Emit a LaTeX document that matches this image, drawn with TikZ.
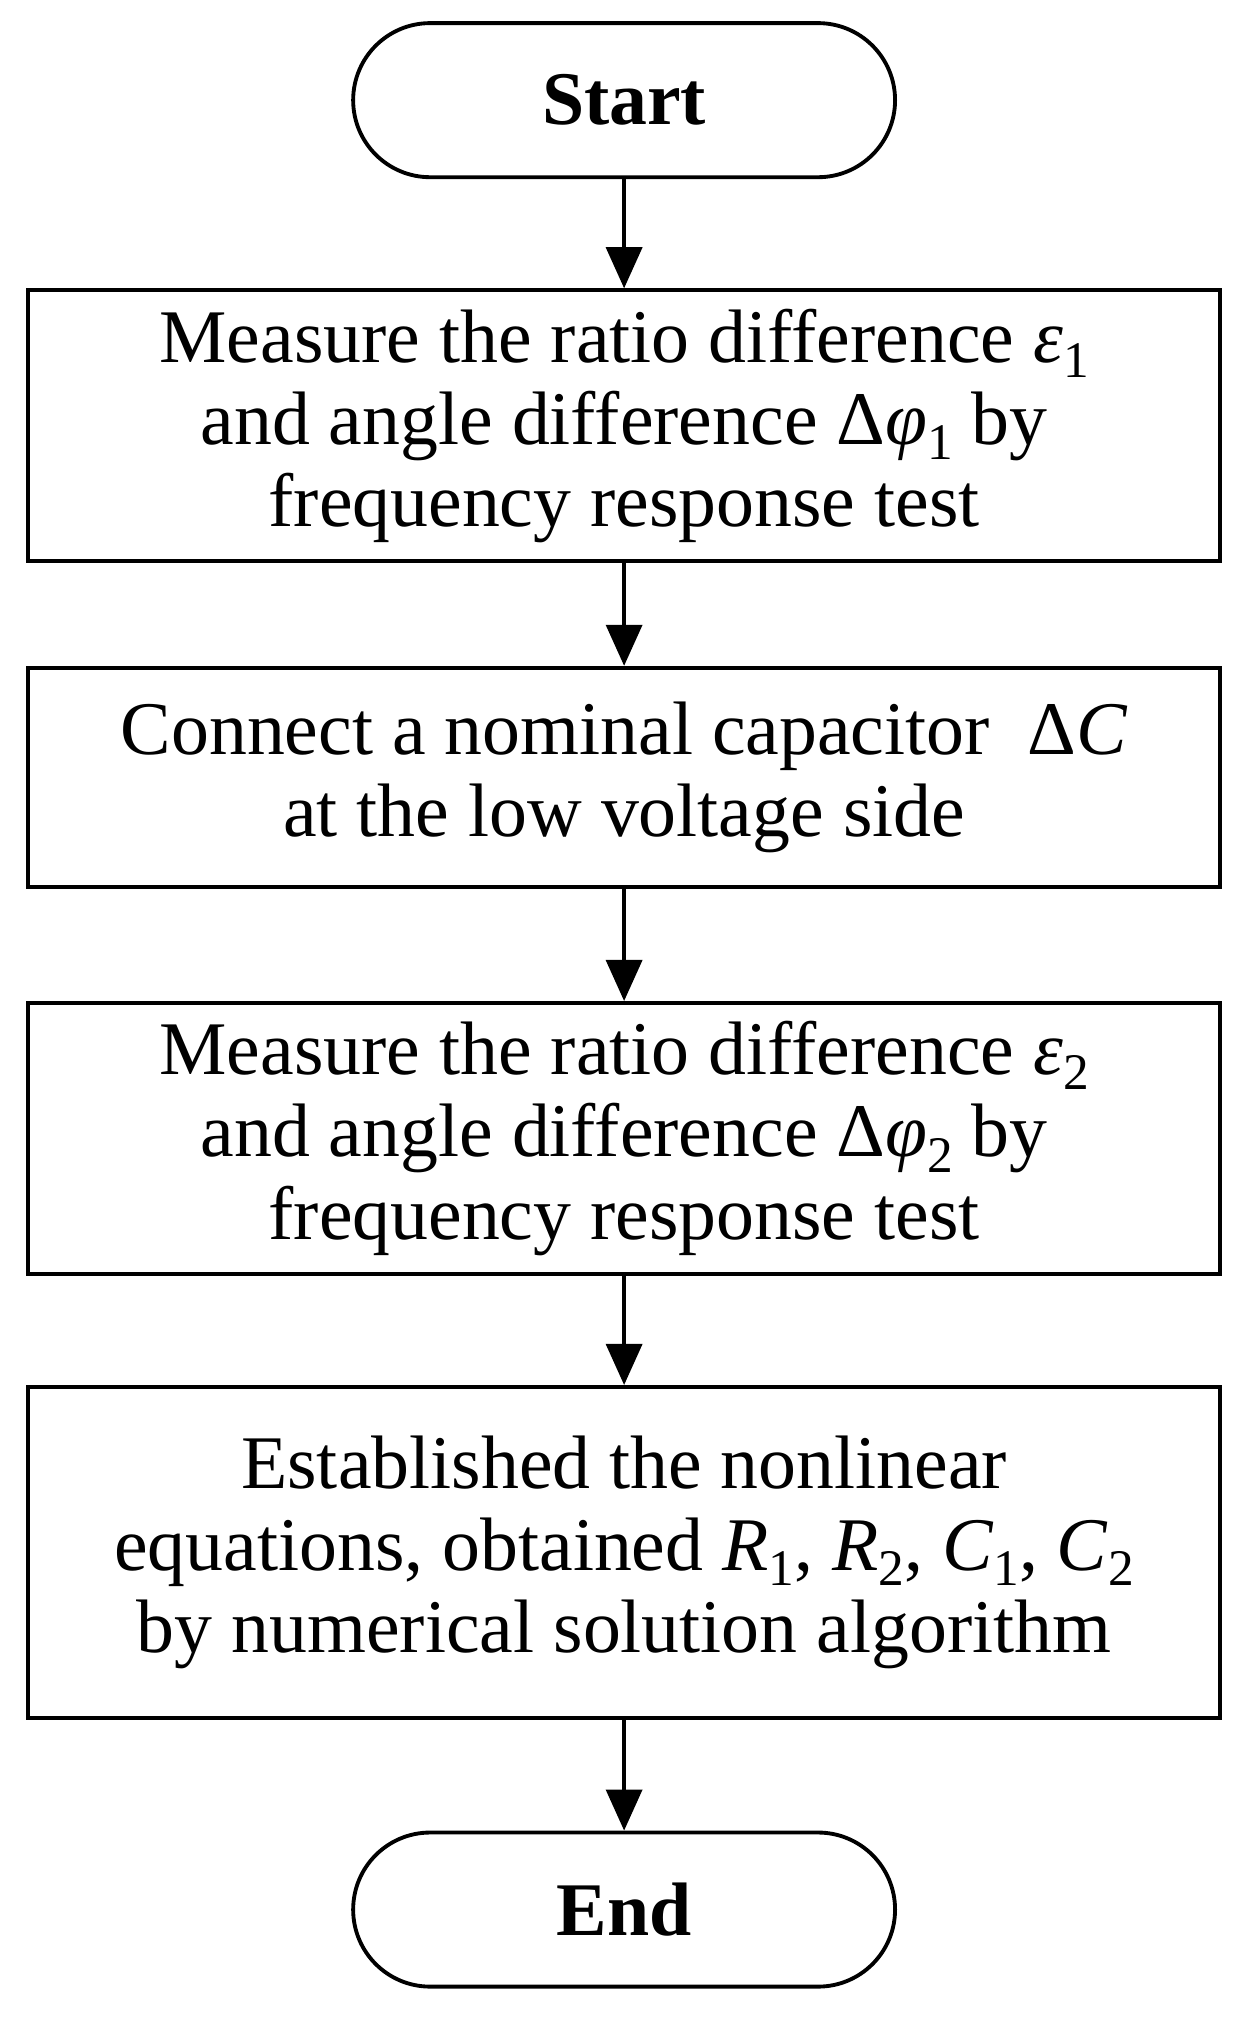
\documentclass[tikz,border=0pt]{standalone}
\usepackage{fontspec}
\setmainfont{Liberation Serif}
\usetikzlibrary{arrows.meta}
\newcommand{\sbs}[1]{\raisebox{-0.2em}{\fontsize{40}{40}\selectfont #1}}
\begin{document}
\begin{tikzpicture}[x=1pt,y=-1pt,
  box/.style={draw,line width=3pt,minimum width=928pt,align=center,inner sep=0pt,font=\fontsize{59}{64}\selectfont},
  term/.style={draw,line width=3pt,rounded corners=60pt,minimum width=422pt,minimum height=120pt,font=\fontsize{59}{64}\selectfont\bfseries},
  arr/.style={line width=3pt,-{Triangle[length=32pt,width=28pt]}}]
\useasboundingbox (0,0) rectangle (975,1573);
\node[term] (s) at (486,78) {Start};
\node[box,minimum height=211pt] (b1) at (486,331.5) {Measure the ratio difference \textit{ε}\sbs{1}\\and angle difference Δ\textit{φ}\sbs{1} by\\frequency response test};
\node[box,minimum height=171pt] (b2) at (486,605.5) {Connect a nominal capacitor \ Δ\textit{C}\\at the low voltage side};
\node[box,minimum height=211pt] (b3) at (486,886.5) {Measure the ratio difference \textit{ε}\sbs{2}\\and angle difference Δ\textit{φ}\sbs{2} by\\frequency response test};
\node[box,minimum height=258pt] (b4) at (486,1209) {Established the nonlinear\\equations, obtained \textit{R}\sbs{1}, \textit{R}\sbs{2}, \textit{C}\sbs{1}, \textit{C}\sbs{2}\\by numerical solution algorithm};
\node[term] (e) at (486,1487) {End};
\draw[arr] (s) -- (b1);
\draw[arr] (b1) -- (b2);
\draw[arr] (b2) -- (b3);
\draw[arr] (b3) -- (b4);
\draw[arr] (b4) -- (e);
\end{tikzpicture}
\end{document}
